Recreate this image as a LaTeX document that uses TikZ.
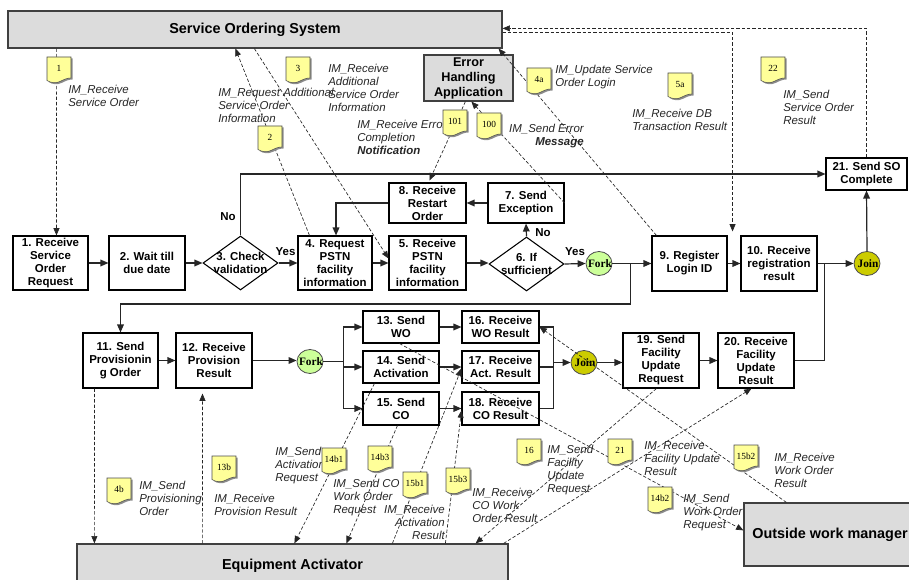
\documentclass[tikz,border=0pt]{standalone}
\usepackage{fontspec}
\setmainfont{Liberation Sans}
\newfontfamily\tnr{Liberation Serif}
\usetikzlibrary{arrows.meta,calc,shapes.geometric}
\definecolor{boxgray}{HTML}{DCDCDC}
\definecolor{memoyel}{HTML}{FFFF99}
\definecolor{forkgreen}{HTML}{CCFF99}
\definecolor{joinyel}{HTML}{CCCC00}
\newcommand\bxf{\fontsize{8.6}{9.75}\selectfont\bfseries}
\newcommand\lbf{\fontsize{8.6}{9.75}\selectfont\itshape}
\newcommand\memo[4]{%
  \begin{scope}[shift={(#2,#3)}]
   \fill[black!45] (1.5,1.5) -- (25.5,1.5) -- (25.5,22.5) .. controls (21.5,22.5) and (18.5,24) .. (14.5,26) .. controls (10.5,28) and (5.5,27.5) .. (1.5,25) -- cycle;
   \draw[fill=memoyel, draw=black!70, line width=0.4pt] (0,0) -- (24,0) -- (24,21) .. controls (20,21) and (17,22.5) .. (13,24.5) .. controls (9,26.5) and (4,26) .. (0,23.5) -- cycle;
   \node[font=\tnr\fontsize{7}{8}\selectfont, inner sep=0pt] (#1) at (12,11) {#4};
  \end{scope}}
\begin{document}
\begin{tikzpicture}[x=0.75pt, y=-0.75pt,
  box/.style={draw=black, line width=0.8pt, fill=white, inner sep=0pt, font=\bxf, align=center},
  wh/.style 2 args={minimum width=#1*0.75pt, minimum height=#2*0.75pt},
  gbox/.style={draw=black!75, line width=0.9pt, fill=boxgray, inner sep=0pt, align=center},
  diam/.style={diamond, draw=black, line width=0.8pt, fill=white, inner sep=0pt},
  fj/.style={ellipse, draw=black!70, line width=0.6pt, inner sep=0pt, minimum width=19.5pt, minimum height=18pt, font=\tnr\fontsize{8.5}{9}\selectfont\bfseries},
  flow/.style={draw=black!85, line width=0.9pt, -{Triangle[length=6pt,width=5pt]}},
  plain/.style={draw=black!85, line width=0.9pt},
  msg/.style={draw=black!85, line width=0.5pt, dash pattern=on 2.5pt off 1.5pt, -{Triangle[length=5.5pt,width=4.5pt]}},
  lbl/.style={font=\lbf, text=black!85, inner sep=0pt, align=left, anchor=north west},
  lblr/.style={font=\lbf, text=black!85, inner sep=0pt, align=right, anchor=north east},
  yn/.style={font=\bxf, inner sep=0pt}]
\useasboundingbox (0,0) rectangle (909,580);
\clip (0,0) rectangle (909,580);

% system boxes
\node[gbox, wh={494}{37}, font=\fontsize{10.8}{12}\selectfont\bfseries] (sos) at (255,29.5) {Service Ordering System};
\node[gbox, wh={89}{46}, font=\fontsize{9.5}{11.25}\selectfont\bfseries] (eha) at (468.5,78) {Error\\Handling\\Application};
\node[gbox, wh={431}{44}, font=\fontsize{10.8}{12}\selectfont\bfseries] (ea) at (292.5,566) {Equipment Activator};
\node[gbox, wh={172}{63}, font=\fontsize{10.8}{12}\selectfont\bfseries] (owm) at (830,534.5) {Outside work manager};

% row 1
\node[box, wh={75}{54}] (n1) at (50.5,263) {1. Receive\\Service\\Order\\Request};
\node[box, wh={76}{54}] (n2) at (147,263) {2. Wait till\\due date};
\node[diam, wh={75}{54}] (d3) at (240.5,263) {};
\node[yn, align=center] (d3t) at (d3) {3. Check\\validation};
\node[box, wh={74}{54}] (n4) at (335,263) {4. Request\\PSTN\\facility\\information};
\node[box, wh={77}{54}] (n5) at (427.5,263) {5. Receive\\PSTN\\facility\\information};
\node[diam, wh={75}{54}] (d6) at (526.5,264) {};
\node[yn, align=center] (d6t) at (d6) {6. If\\sufficient};
\node[fj, fill=forkgreen] (f1) at (599,263.5) {\makebox[0pt]{\hspace{1.5pt}Fork}};
\node[box, wh={75}{55}] (n9) at (689.5,263.5) {9. Register\\Login ID};
\node[box, wh={76}{55}] (n10) at (779,263.5) {10. Receive\\registration\\result};
\node[fj, fill=joinyel] (j1) at (867,263.5) {\makebox[0pt]{\hspace{1.5pt}Join}};
\node[box, wh={81}{32}] (n21) at (866.5,174) {21. Send SO\\Complete};
\node[box, wh={77}{40}] (n8) at (427.5,203) {8. Receive\\Restart\\Order};
\node[box, wh={76}{40}] (n7) at (526,203) {7. Send\\Exception};

% row 2
\node[box, wh={75}{55}] (n11) at (120.5,360.5) {11. Send\\Provisionin\\g Order};
\node[box, wh={76}{55}] (n12) at (214,360.5) {12. Receive\\Provision\\Result};
\node[fj, fill=forkgreen] (f2) at (310,361.5) {\makebox[0pt]{\hspace{1.5pt}Fork}};
\node[box, wh={76}{32}] (n13) at (401,327) {13. Send\\WO};
\node[box, wh={76}{32}] (n14) at (401,367) {14. Send\\Activation};
\node[box, wh={76}{33}] (n15) at (401,408.5) {15. Send\\CO};
\node[box, wh={77}{32}] (n16) at (500.5,327) {16. Receive\\WO Result};
\node[box, wh={77}{32}] (n17) at (500.5,367) {17. Receive\\Act. Result};
\node[box, wh={77}{33}] (n18) at (500.5,408.5) {18. Receive\\CO Result};
\node[fj, fill=joinyel] (j2) at (584,362.5) {\makebox[0pt]{\hspace{1.5pt}Join}};
\node[box, wh={76}{55}] (n19) at (661,360.5) {19. Send\\Facility\\Update\\Request};
\node[box, wh={76}{55}] (n20) at (756,360.5) {20. Receive\\Facility\\Update\\Result};

% flow connectors row 1
\draw[flow] (n1.east) -- (n2.west);
\draw[flow] (n2.east) -- (d3.west);
\draw[flow] (d3.east) -- (n4.west);
\draw[flow] (n4.east) -- (n5.west);
\draw[flow] (n5.east) -- (n5.east -| d6.west);
\draw[flow] (d6.east) -- (f1.west);
\draw[flow] (f1.east) -- (n9.west);
\draw[flow] (n9.east) -- (n10.west);
\draw[flow] (n10.east) -- (j1.west);
\draw[flow] (j1.north) -- (n21.south);
\draw[flow] (d6.north) -- (n7.south);
\draw[flow] (n7.west) -- (n8.east);
\draw[flow] (n8.west) -| ($(n4.north)+(1,0)$);
\draw[flow] (d3.north) |- (n21.west);
\coordinate (br1) at ($(n9.west)+(-21,0)$);
\draw[flow] (br1) -- ++(0,40.5) -| (n11.north);
\node[yn] (no3) at (228,217) {No};
\node[yn] (yes3) at (285.5,252) {Yes};
\node[yn] (no6) at (543,233) {No};
\node[yn] (yes6) at (575,252) {Yes};

% flow connectors row 2
\draw[flow] (n11.east) -- (n12.west);
\draw[flow] (n12.east) -- (n12.east -| f2.west);
\coordinate (fb) at ($(f2.east)+(20,0)$);
\draw[plain] (f2.east) -- (fb);
\draw[flow] (fb) |- (n13.west);
\draw[flow] (fb) |- (n14.west);
\draw[flow] (fb) |- (n15.west);
\draw[flow] (n13.east) -- (n16.west);
\draw[flow] (n14.east) -- (n17.west);
\draw[flow] (n15.east) -- (n18.west);
\coordinate (jb) at ($(j2.west)+(-17,0)$);
\draw[plain] (n16.east) -| (jb) |- (n18.east);
\draw[plain] (n17.east) -- (n17.east -| jb);
\draw[flow] (jb) -- (j2.west);
\draw[flow] (j2.east) -- (j2.east -| n19.west);
\draw[flow] (n19.east) -- (n20.west);
\draw[plain] (n20.east) -| ($(n10.east)+(7,0)$);

% message lines
\draw[msg] ($(sos.south west)+(49,0)$) -- ($(n1.north west)+(44,0)$);
\draw[msg] ($(n4.north west)+(12,0)$) -- ($(sos.south west)+(228,0)$);
\draw[msg] ($(sos.south west)+(247,0)$) -- ($(n5.north west)+(0,23)$);
\draw[msg] ($(eha.south west)+(42,0)$) -- ($(n8.north west)+(41,-2)$);
\draw[msg] (n7.east) -- ($(eha.south west)+(48,0)$);
\draw[msg] ($(n9.north west)+(5,0)$) -- ($(sos.south east)+(-4,0)$);
\draw[msg] ($(sos.north east)+(0,22)$) -| ($(n9.north east)+(5,-4)$);
\draw[msg] ($(n21.north west)+(41,0)$) |- ($(sos.north east)+(0,18)$);
\draw[msg] ($(n11.south west)+(12,0)$) -- ($(ea.north west)+(18,0)$);
\draw[msg] ($(ea.north west)+(126,0)$) -- ($(n12.south west)+(27,5)$);
\draw[msg] ($(n14.south west)+(12,0)$) -- ($(ea.north west)+(218,0)$);
\draw[msg] ($(n15.south west)+(35,0)$) -- ($(ea.north west)+(270,0)$);
\draw[msg] ($(ea.north west)+(316,0)$) -- ($(n17.north west)+(0,18)$);
\draw[msg] ($(ea.north west)+(369,0)$) -- ($(n18.north west)+(0,19)$);
\draw[msg] ($(n19.south west)+(34,0)$) -- ($(ea.north east)+(-33,0)$);
\draw[msg] ($(ea.north east)+(-5,0)$) -- ($(n20.south west)+(34,0)$);
\draw[msg] ($(n13.south west)+(37,0)$) -- ($(owm.north west)+(0,28)$);
\draw[msg] ($(owm.north west)+(43,0)$) -- (n16.east);

% labels
\node[lbl] (l1) at (68,84.5) {IM\_Receive\\Service Order};
\node[lbl] (l2) at (218,87.5) {IM\_Request Additional\\Service Order\\Information};
\node[lbl] (l3) at (328,63.5) {IM\_Receive\\Additional\\Service Order\\Information};
\node[lbl] (l101) at (357,119.5) {IM\_Receive Error\\Completion\\\textbf{Notification}};
\node[lblr] (l100) at (584,123.5) {IM\_Send Error\\\textbf{Message}};
\node[lbl] (l4a) at (555,64.5) {IM\_Update Service\\Order Login};
\node[lbl] (l5a) at (632,108.5) {IM\_Receive DB\\Transaction Result};
\node[lbl] (l22) at (783,89.5) {IM\_Send\\Service Order\\Result};
\node[lbl] (l4b) at (139,480.5) {IM\_Send\\Provisioning\\Order};
\node[lbl] (l13b) at (214,493.5) {IM\_Receive\\Provision Result};
\node[lbl] (l14b1) at (275,446.5) {IM\_Send\\Activation\\Request};
\node[lbl] (l14b3) at (333,478.5) {IM\_Send CO\\Work Order\\Request};
\node[lblr] (l15b1) at (445,504.5) {IM\_Receive\\Activation\\Result};
\node[lbl] (l15b3) at (472,487.5) {IM\_Receive\\CO Work\\Order Result};
\node[lbl] (l16) at (547,444.5) {IM\_Send\\Facility\\Update\\Request};
\node[lbl] (l21) at (644,440.5) {IM\_Receive\\Facility Update\\Result};
\node[lbl] (l14b2) at (683,493.5) {IM\_Send\\Work Order\\Request};
\node[lbl] (l15b2) at (774,452.5) {IM\_Receive\\Work Order\\Result};

% memos
\memo{m1}{47}{57}{1}
\memo{m2}{258}{126}{2}
\memo{m3}{286}{57}{3}
\memo{m101}{443}{110}{101}
\memo{m100}{477}{113}{100}
\memo{m4a}{527}{68}{4a}
\memo{m5a}{668}{73}{5a}
\memo{m22}{761}{57}{22}
\memo{m4b}{107}{478}{4b}
\memo{m13b}{212}{456}{13b}
\memo{m14b1}{322}{448}{14b1}
\memo{m14b3}{368}{446}{14b3}
\memo{m15b1}{403}{472}{15b1}
\memo{m15b3}{446}{468}{15b3}
\memo{m16}{517}{439}{16}
\memo{m21}{608}{439}{21}
\memo{m14b2}{648}{487}{14b2}
\memo{m15b2}{734}{445}{15b2}
\end{tikzpicture}
\end{document}
